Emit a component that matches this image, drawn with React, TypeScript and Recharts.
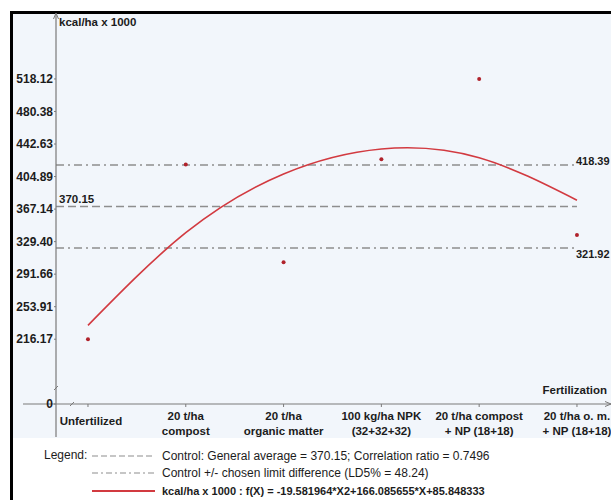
import { ComposedChart, Line, ReferenceLine, XAxis, YAxis } from "recharts";

const FONT = "'Liberation Sans', Arial, sans-serif";

// treatments on the x axis (1..6)
const TREATMENTS = [1, 2, 3, 4, 5, 6];
const TREATMENT_LABELS = [
  ["Unfertilized"],
  ["20 t/ha", "compost"],
  ["20 t/ha", "organic matter"],
  ["100 kg/ha NPK", "(32+32+32)"],
  ["20 t/ha compost", "+ NP (18+18)"],
  ["20 t/ha o. m.", "+ NP (18+18)"],
];

// kcal/ha x 1000
const OBSERVED = [216.17, 418.8, 305.6, 425.0, 518.12, 337.2];
const FITTED = [232.3, 339.7, 407.9, 436.9, 426.7, 377.4];

const Y_TICKS = [216.17, 253.91, 291.66, 329.4, 367.14, 404.89, 442.63, 480.38, 518.12];

const AVERAGE = 370.15;
const UPPER_LIMIT = 418.39;
const LOWER_LIMIT = 321.92;

// broken axes: the bottom of the value axis is shown as "0"
const X_DOMAIN: [number, number] = [0.673, 6.348];
const Y_DOMAIN: [number, number] = [141.03, 593.47];
const X_AXIS_START = 0.335;
const Y_AXIS_END = 102.75;

const data = TREATMENTS.map((x, i) => ({ x, observed: OBSERVED[i], fitted: FITTED[i] }));

const GRAY = "#8e8e8e";
const AXIS = "#7a7a7a";
const RED = "#d23a40";
const TEXT = "#1c1c1c";

function TreatmentTick(props: any) {
  const { x, y, payload } = props;
  const lines = TREATMENT_LABELS[TREATMENTS.indexOf(payload.value)] || [];
  return (
    <text x={x} textAnchor="middle" fill={TEXT} fontFamily={FONT} fontSize={11.5} fontWeight="bold">
      {lines.length === 1 ? (
        <tspan x={x + 3} y={y + 16}>{lines[0]}</tspan>
      ) : (
        lines.map((l, i) => (
          <tspan key={i} x={x} y={y + 11 + i * 15}>{l}</tspan>
        ))
      )}
    </text>
  );
}

// label at the start (atEnd=false) or past the end (atEnd=true) of a segment
function lineLabel(value: string, atEnd: boolean, dx: number, dy: number, size = 11.5) {
  return (props: any) => {
    const vb = props.viewBox || {};
    const x0 = atEnd ? vb.x + (vb.width || 0) : vb.x;
    return (
      <text x={x0 + dx} y={vb.y + dy} fill={TEXT} fontFamily={FONT} fontSize={size} fontWeight="bold">
        {value}
      </text>
    );
  };
}

function LegendRow({ top, dash, color, width, children, size = 12, bold = false }: any) {
  return (
    <div style={{ position: "absolute", left: 92, top: top - 8, height: 16, display: "flex", alignItems: "center" }}>
      <svg width={64} height={16}>
        <line x1={0} y1={8} x2={63} y2={8} stroke={color} strokeWidth={width} strokeDasharray={dash} />
      </svg>
      <span style={{ marginLeft: 6, fontSize: size, fontWeight: bold ? "bold" : "normal", color: TEXT, whiteSpace: "nowrap" }}>
        {children}
      </span>
    </div>
  );
}

export default function App() {
  return (
    <div style={{ position: "absolute", left: 0, top: 0, width: 611, height: 500, background: "#fff", fontFamily: FONT, overflow: "hidden" }}>
      {/* frame + plot background */}
      <div style={{ position: "absolute", left: 13, top: 14, width: 598, height: 424, background: "#f2f6fb" }} />
      <div style={{ position: "absolute", left: 10, top: 11, width: 601, height: 3, background: "#000" }} />
      <div style={{ position: "absolute", left: 10, top: 11, width: 3, height: 489, background: "#000" }} />

      <div style={{ position: "absolute", left: 0, top: 0 }}>
        <ComposedChart width={611} height={438} data={data} margin={{ top: 14, right: 0, bottom: 0, left: 13 }}>
          <XAxis
            dataKey="x"
            type="number"
            domain={X_DOMAIN}
            ticks={TREATMENTS}
            interval={0}
            allowDataOverflow
            height={34}
            tickSize={3}
            tickMargin={2}
            axisLine={{ stroke: AXIS, strokeWidth: 1.2 }}
            tickLine={{ stroke: AXIS }}
            tick={<TreatmentTick />}
          />
          <YAxis
            type="number"
            domain={Y_DOMAIN}
            ticks={[Y_DOMAIN[0], ...Y_TICKS]}
            allowDataOverflow
            interval={0}
            width={43}
            tickSize={2}
            tickMargin={1}
            tickFormatter={(v: number) => (v === Y_DOMAIN[0] ? "0" : v.toFixed(2))}
            axisLine={{ stroke: AXIS, strokeWidth: 1.2 }}
            tickLine={{ stroke: AXIS }}
            tick={{ fontSize: 12, fontWeight: "bold", fill: TEXT, fontFamily: FONT }}
          />
          <ReferenceLine
            segment={[{ x: X_AXIS_START, y: Y_DOMAIN[0] }, { x: X_DOMAIN[0], y: Y_DOMAIN[0] }]}
            ifOverflow="visible"
            stroke={AXIS}
            strokeWidth={1.2}
          />
          <ReferenceLine
            segment={[{ x: X_DOMAIN[0], y: Y_DOMAIN[0] }, { x: X_DOMAIN[0], y: Y_AXIS_END }]}
            ifOverflow="visible"
            stroke={AXIS}
            strokeWidth={1.2}
          />
          <ReferenceLine
            segment={[{ x: X_DOMAIN[0], y: AVERAGE }, { x: TREATMENTS[5], y: AVERAGE }]}
            stroke={GRAY}
            strokeWidth={1.5}
            strokeDasharray="8 4"
            label={lineLabel(AVERAGE.toFixed(2), false, 3, -4)}
          />
          <ReferenceLine
            segment={[{ x: X_DOMAIN[0], y: UPPER_LIMIT }, { x: TREATMENTS[5], y: UPPER_LIMIT }]}
            stroke={GRAY}
            strokeWidth={1.5}
            strokeDasharray="8 4 2 4"
            label={lineLabel(UPPER_LIMIT.toFixed(2), true, -1, 0, 11)}
          />
          <ReferenceLine
            segment={[{ x: X_DOMAIN[0], y: LOWER_LIMIT }, { x: TREATMENTS[5], y: LOWER_LIMIT }]}
            stroke={GRAY}
            strokeWidth={1.5}
            strokeDasharray="8 4 2 4"
            label={lineLabel(LOWER_LIMIT.toFixed(2), true, -1, 10, 11)}
          />
          <Line
            type="natural"
            dataKey="fitted"
            stroke={RED}
            strokeWidth={1.6}
            dot={false}
            activeDot={false}
            isAnimationActive={false}
          />
          <Line
            dataKey="observed"
            stroke="none"
            dot={{ r: 2, fill: "#b0222b", stroke: "none" }}
            activeDot={false}
            isAnimationActive={false}
          />
        </ComposedChart>
      </div>

      {/* arrowheads and axis-break marks */}
      <svg style={{ position: "absolute", left: 0, top: 0, pointerEvents: "none" }} width={611} height={500}>
        <path d="M53.5 19 L56 13 L58.5 19" fill="none" stroke={AXIS} strokeWidth={1} />
        <path d="M605 401.5 L611 404 L605 406.5" fill="none" stroke={AXIS} strokeWidth={1} />
        <path d="M54 390 L58 386" stroke={AXIS} strokeWidth={1} />
        <path d="M70 406 L74 402" stroke={AXIS} strokeWidth={1} />
      </svg>

      <div style={{ position: "absolute", left: 59, top: 16, fontSize: 11.5, fontWeight: "bold", color: TEXT }}>kcal/ha x 1000</div>
      <div style={{ position: "absolute", right: 4, top: 384, fontSize: 11.5, fontWeight: "bold", color: TEXT }}>Fertilization</div>

      <div style={{ position: "absolute", left: 44, top: 448, fontSize: 12, color: TEXT }}>Legend:</div>
      <LegendRow top={456} dash="6 3" color={GRAY} width={1.2}>
        Control: General average = 370.15; Correlation ratio = 0.7496
      </LegendRow>
      <LegendRow top={473} dash="6 3 2 3" color={GRAY} width={1.2}>
        Control +/- chosen limit difference (LD5% = 48.24)
      </LegendRow>
      <LegendRow top={491} color={RED} width={2} size={11} bold>
        kcal/ha x 1000 : f(X) =  -19.581964*X2+166.085655*X+85.848333
      </LegendRow>
    </div>
  );
}
